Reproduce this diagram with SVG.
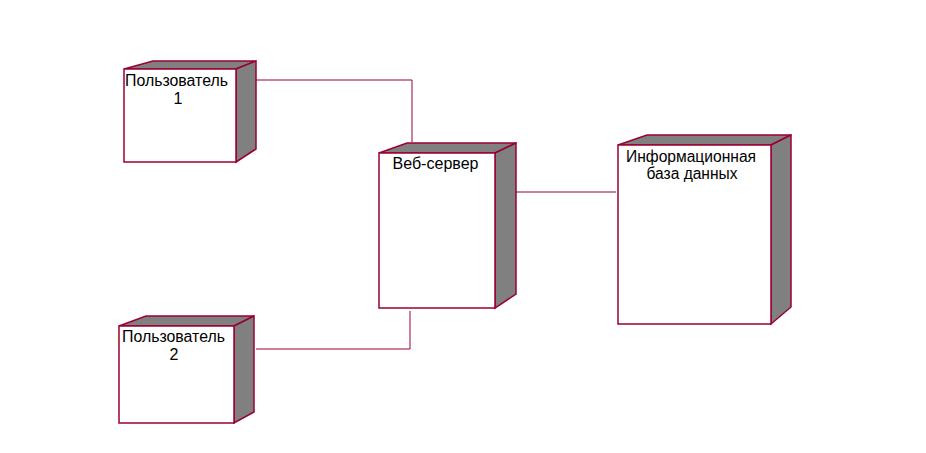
<svg xmlns="http://www.w3.org/2000/svg" width="926" height="453" viewBox="0 0 926 453">
<style>
.front{fill:#ffffff;stroke:#990033;stroke-width:1.5}
.side{fill:#808080;stroke:#990033;stroke-width:1.5;stroke-linejoin:miter}
.lbl{font-family:"Liberation Sans",Arial,sans-serif;font-size:16px;fill:#000000;text-anchor:middle}
.conn{fill:none;stroke:#990033;stroke-width:1}
</style>
<rect width="926" height="453" fill="#ffffff"/>
<g id="connectors">
<polyline class="conn" points="256,80 412,80 412,142"/>
<polyline class="conn" points="410,311 410,349 256,349"/>
<line class="conn" x1="516" y1="192" x2="616" y2="192"/>
</g>
<g id="user1">
<polygon class="side" points="124,69 153,61 256,61 236,69"/>
<polygon class="side" points="236,69 256,61 256,149 236,162"/>
<rect class="front" x="124" y="69" width="112" height="93"/>
<text class="lbl" x="176.5" y="86" textLength="103" lengthAdjust="spacingAndGlyphs">Пользователь</text>
<text class="lbl" x="178" y="104">1</text>
</g>
<g id="user2">
<polygon class="side" points="119,326 146,316 254,316 234,326"/>
<polygon class="side" points="234,326 254,316 254,412 234,423"/>
<rect class="front" x="119" y="326" width="115" height="97"/>
<text class="lbl" x="173.5" y="342" textLength="103" lengthAdjust="spacingAndGlyphs">Пользователь</text>
<text class="lbl" x="174" y="360">2</text>
</g>
<g id="webserver">
<polygon class="side" points="379,153 407,143 516,143 495,153"/>
<polygon class="side" points="495,153 516,143 516,294 495,308"/>
<rect class="front" x="379" y="153" width="116" height="155"/>
<text class="lbl" x="435.5" y="169" textLength="86" lengthAdjust="spacingAndGlyphs">Веб-сервер</text>
</g>
<g id="database">
<polygon class="side" points="618,145 647,135 791,135 771,145"/>
<polygon class="side" points="771,145 791,135 791,307 771,324"/>
<rect class="front" x="618" y="145" width="153" height="179"/>
<text class="lbl" x="691" y="162" textLength="130" lengthAdjust="spacingAndGlyphs">Информационная</text>
<text class="lbl" x="692" y="179" textLength="91" lengthAdjust="spacingAndGlyphs">база данных</text>
</g>
</svg>
